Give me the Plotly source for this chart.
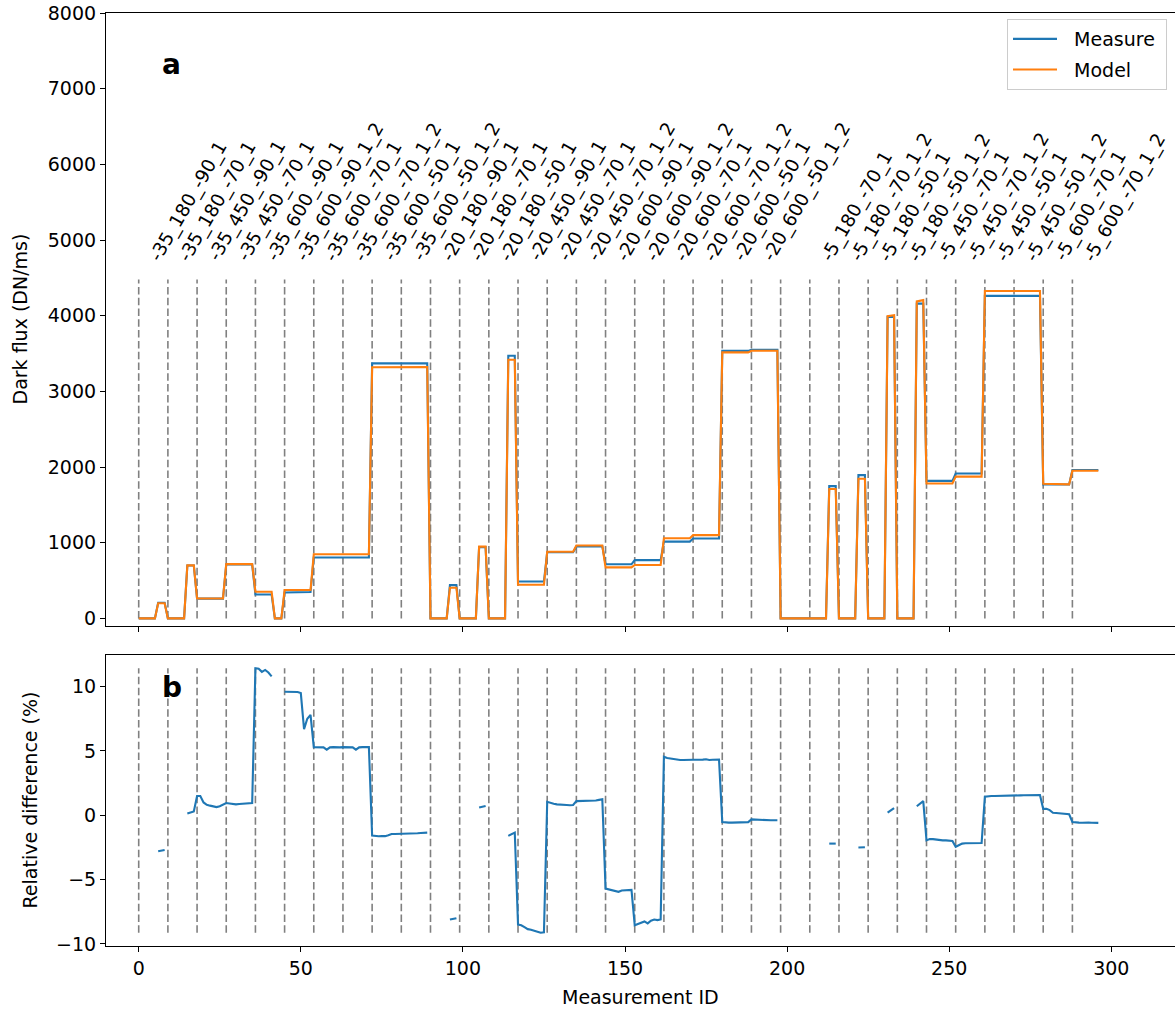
import plotly.graph_objects as go

# ---------------- data ----------------
measurement_id = list(range(297))

boundaries = [0, 9, 18, 27, 36, 45, 54, 63, 72, 81, 90, 99, 108, 117, 126, 135,
              144, 153, 162, 171, 180, 189, 198, 207, 216, 225, 234, 243, 252,
              261, 270, 279, 288]

config_labels = [
    "-35_180_-90_1", "-35_180_-70_1", "-35_450_-90_1", "-35_450_-70_1",
    "-35_600_-90_1", "-35_600_-90_1_2", "-35_600_-70_1", "-35_600_-70_1_2",
    "-35_600_-50_1", "-35_600_-50_1_2",
    "-20_180_-90_1", "-20_180_-70_1", "-20_180_-50_1", "-20_450_-90_1",
    "-20_450_-70_1", "-20_450_-70_1_2", "-20_600_-90_1", "-20_600_-90_1_2",
    "-20_600_-70_1", "-20_600_-70_1_2", "-20_600_-50_1", "-20_600_-50_1_2",
    "",
    "-5_180_-70_1", "-5_180_-70_1_2", "-5_180_-50_1", "-5_180_-50_1_2",
    "-5_450_-70_1", "-5_450_-70_1_2", "-5_450_-50_1", "-5_450_-50_1_2",
    "-5_600_-70_1", "-5_600_-70_1_2",
]

# Dark flux, measured (DN/ms), per measurement ID
measure = (
    [0] * 6 + [207] * 3 +
    [0] * 6 + [700] * 3 +
    [262] * 9 +
    [712] * 9 +
    [316] * 6 + [0] * 3 +
    [342] * 6 + [351, 349, 348] +
    [805] * 9 +
    [805] * 9 +
    [3370] * 9 +
    [3370] * 9 +
    [0] * 6 + [440] * 3 +
    [0] * 6 + [942] * 3 +
    [0] * 6 + [3470] * 3 +
    [487] * 9 +
    [874] * 9 +
    [952] * 9 +
    [715] * 9 +
    [770] * 9 +
    [1015] * 9 +
    [1055] * 9 +
    [3535] * 9 +
    [3550] * 9 +
    [0] * 9 +
    [0] * 6 + [1748] * 3 +
    [0] * 6 + [1893] * 3 +
    [0] * 6 + [3985] * 3 +
    [0] * 6 + [4160] * 3 +
    [1818] * 9 +
    [1915] * 9 +
    [4262] * 9 +
    [4262] * 9 +
    [1770] * 9 +
    [1962] * 9
)

# Dark flux, model (DN/ms)
model = (
    [0] * 6 + [201] * 3 +
    [0] * 6 + [701] * 3 +
    [264] * 9 +
    [718] * 9 +
    [352] * 6 + [0] * 3 +
    [375] * 9 +
    [847] * 9 +
    [847] * 9 +
    [3318] * 9 +
    [3322] * 9 +
    [0] * 6 + [405] * 3 +
    [0] * 6 + [948] * 3 +
    [0] * 6 + [3418] * 3 +
    [444] * 9 +
    [881] * 9 +
    [963] * 9 +
    [674] * 9 +
    [706] * 9 +
    [1060] * 9 +
    [1100] * 9 +
    [3516] * 9 +
    [3537] * 9 +
    [0] * 9 +
    [0] * 6 + [1710] * 3 +
    [0] * 6 + [1846] * 3 +
    [0] * 6 + [3993, 4000, 4007] +
    [0] * 6 + [4189, 4197, 4206] +
    [1783] * 9 +
    [1873] * 9 +
    [4326] * 9 +
    [4326] * 9 +
    [1779, 1779, 1777, 1774, 1773, 1773, 1772, 1772, 1771] +
    [1951] * 9
)

N = None
# Relative difference (%), gaps where the flux is zero
rel_diff = (
    [N] * 6 + [-2.8, -2.75, -2.7] +
    [N] * 6 + [0.13, 0.2, 0.3] +
    [1.5, 1.5, 1.0, 0.82, 0.75, 0.7, 0.64, 0.7, 0.8] +
    [0.95, 0.92, 0.88, 0.85, 0.88, 0.9, 0.9, 0.92, 0.95] +
    [11.43, 11.4, 11.15, 11.3, 11.1, 10.8] + [N] * 3 +
    [9.6, 9.6, 9.6, 9.6, 9.58, 9.5, 6.7, 7.5, 7.8] +
    [5.3, 5.28, 5.28, 5.28, 5.1, 5.28, 5.3, 5.28, 5.28] +
    [5.3, 5.3, 5.28, 5.28, 5.1, 5.28, 5.3, 5.3, 5.3] +
    [-1.58, -1.62, -1.63, -1.62, -1.62, -1.55, -1.45, -1.45, -1.45] +
    [-1.45, -1.45, -1.44, -1.45, -1.43, -1.4, -1.38, -1.37, -1.35] +
    [N] * 6 + [-8.1, -8.05, -8.0] +
    [N] * 6 + [0.6, 0.65, 0.72] +
    [N] * 6 + [-1.6, -1.45, -1.35] +
    [-8.5, -8.55, -8.7, -8.85, -8.9, -8.95, -9.05, -9.13, -9.1] +
    [1.05, 0.95, 0.9, 0.85, 0.85, 0.82, 0.8, 0.78, 0.8] +
    [1.1, 1.1, 1.1, 1.1, 1.12, 1.15, 1.15, 1.2, 1.25] +
    [-5.7, -5.75, -5.8, -5.85, -5.95, -5.85, -5.85, -5.8, -5.8] +
    [-8.55, -8.45, -8.35, -8.25, -8.4, -8.2, -8.1, -8.15, -8.1] +
    [4.55, 4.45, 4.4, 4.35, 4.33, 4.3, 4.3, 4.32, 4.3] +
    [4.32, 4.32, 4.3, 4.33, 4.35, 4.3, 4.32, 4.3, 4.33] +
    [-0.52, -0.56, -0.57, -0.57, -0.56, -0.57, -0.56, -0.55, -0.53] +
    [-0.32, -0.34, -0.35, -0.36, -0.37, -0.38, -0.39, -0.39, -0.39] +
    [N] * 9 +
    [N] * 6 + [-2.2, -2.2, -2.2] +
    [N] * 6 + [-2.5, -2.5, -2.48] +
    [N] * 6 + [0.2, 0.38, 0.55] +
    [N] * 6 + [0.7, 0.9, 1.1] +
    [-1.95, -1.85, -1.85, -1.9, -1.92, -1.95, -1.95, -1.97, -2.0] +
    [-2.45, -2.3, -2.2, -2.17, -2.17, -2.16, -2.16, -2.15, -2.15] +
    [1.45, 1.5, 1.5, 1.5, 1.5, 1.5, 1.52, 1.52, 1.55] +
    [1.55, 1.55, 1.55, 1.56, 1.56, 1.57, 1.57, 1.58, 1.58] +
    [0.5, 0.5, 0.4, 0.2, 0.18, 0.15, 0.12, 0.1, 0.08] +
    [-0.52, -0.57, -0.57, -0.58, -0.56, -0.57, -0.58, -0.57, -0.59]
)

flux_vline_span = [0, 4480]
rel_vline_span = [-9.13, 11.43]

flux_ticks = [0, 1000, 2000, 3000, 4000, 5000, 6000, 7000, 8000]
rel_ticks = [-10, -5, 0, 5, 10]
x_ticks = [0, 50, 100, 150, 200, 250, 300]

# ---------------- styling ----------------
W, H = 1175, 1010
ML, MR, MT, MB = 106, 0, 13, 64
PW, PH = W - ML - MR, H - MT - MB
FONT = "DejaVu Sans"
BLUE, ORANGE = "#1f77b4", "#ff7f0e"
LW = 2.1
TOP_DOMAIN = [0.343, 1.0]
BOT_DOMAIN = [0.0, 0.3119]
X_RANGE = [-10.09, 319.65]
label_dx = 1.25
label_y = 4630
NBSP = "\u00a0"


def vline_xy(bounds, span):
    xs, ys = [], []
    for b in bounds:
        xs += [b, b, None]
        ys += [span[0], span[1], None]
    return xs, ys


fig = go.Figure()

vx, vy = vline_xy(boundaries, flux_vline_span)
fig.add_trace(go.Scatter(x=vx, y=vy, mode="lines", xaxis="x", yaxis="y",
                         line=dict(color="#808080", width=1.6, dash="7.5px,3.3px"),
                         showlegend=False, hoverinfo="skip"))
fig.add_trace(go.Scatter(x=measurement_id, y=measure, mode="lines",
                         name=NBSP * 2 + "Measure" + NBSP, legendgroup="g1",
                         xaxis="x", yaxis="y", line=dict(color=BLUE, width=LW)))
fig.add_trace(go.Scatter(x=measurement_id, y=model, mode="lines",
                         name=NBSP * 2 + "Model", legendgroup="g2",
                         xaxis="x", yaxis="y", line=dict(color=ORANGE, width=LW)))

vx2, vy2 = vline_xy(boundaries, rel_vline_span)
fig.add_trace(go.Scatter(x=vx2, y=vy2, mode="lines", xaxis="x2", yaxis="y2",
                         line=dict(color="#808080", width=1.6, dash="7.5px,3.3px"),
                         showlegend=False, hoverinfo="skip"))
fig.add_trace(go.Scatter(x=measurement_id, y=rel_diff, mode="lines", name="Relative difference",
                         xaxis="x2", yaxis="y2", connectgaps=False,
                         line=dict(color=BLUE, width=LW), showlegend=False))

axis_common = dict(showline=True, linecolor="black", linewidth=1.1, ticks="outside",
                   ticklen=5, tickwidth=1.1, tickcolor="black", showgrid=False,
                   zeroline=False, tickfont=dict(family=FONT, size=19, color="black"))

fig.update_layout(
    width=W, height=H,
    margin=dict(l=ML, r=MR, t=MT, b=MB, pad=0),
    paper_bgcolor="white", plot_bgcolor="white",
    font=dict(family=FONT, size=19, color="black"),
    xaxis=dict(domain=[0, 1], anchor="y", range=X_RANGE, tickvals=x_ticks,
               showticklabels=False, mirror=True, **axis_common),
    yaxis=dict(domain=TOP_DOMAIN, anchor="x", range=[-100, 8000], tickvals=flux_ticks,
               **axis_common),
    xaxis2=dict(domain=[0, 1], anchor="y2", range=X_RANGE, tickvals=x_ticks,
                mirror=True, **axis_common),
    yaxis2=dict(domain=BOT_DOMAIN, anchor="x2", range=[-10.16, 12.46], tickvals=rel_ticks,
                **axis_common),
    legend=dict(x=(1167 - ML) / PW, y=(MT + PH - 19) / PH, xanchor="right", yanchor="top",
                bgcolor="white", bordercolor="#cccccc", borderwidth=1,
                font=dict(family=FONT, size=19, color="black"),
                itemwidth=44, tracegroupgap=3),
    showlegend=True,
)

annotations = []
for i, lab in enumerate(config_labels):
    if not lab:
        continue
    annotations.append(dict(x=boundaries[i] + label_dx, y=label_y, xref="x", yref="y",
                            text=lab, textangle=-60, xanchor="left", yanchor="bottom",
                            showarrow=False, font=dict(family=FONT, size=18.5, color="black")))

annotations += [
    dict(x=0.0505, y=0.9451, xref="paper", yref="paper", text="<b>a</b>", showarrow=False,
         xanchor="left", yanchor="middle", font=dict(family=FONT, size=28, color="black")),
    dict(x=0.0505, y=0.2774, xref="paper", yref="paper", text="<b>b</b>", showarrow=False,
         xanchor="left", yanchor="middle", font=dict(family=FONT, size=28, color="black")),
    dict(x=(20 - ML) / PW, y=(TOP_DOMAIN[0] + TOP_DOMAIN[1]) / 2,
         xref="paper", yref="paper", text="Dark flux (DN/ms)", textangle=-90,
         showarrow=False, xanchor="center", yanchor="middle",
         font=dict(family=FONT, size=19, color="black")),
    dict(x=(30 - ML) / PW, y=(BOT_DOMAIN[0] + BOT_DOMAIN[1]) / 2,
         xref="paper", yref="paper", text="Relative difference (%)", textangle=-90,
         showarrow=False, xanchor="center", yanchor="middle",
         font=dict(family=FONT, size=19, color="black")),
    dict(x=(640.5 - ML) / PW, y=(946 - 997) / PH,
         xref="paper", yref="paper", text="Measurement ID", showarrow=False,
         xanchor="center", yanchor="middle", font=dict(family=FONT, size=19, color="black")),
]
fig.update_layout(annotations=annotations)

fig.write_html("out.html", config={"displayModeBar": False},
               post_script="document.body.style.margin='0';document.body.style.overflow='hidden';")
